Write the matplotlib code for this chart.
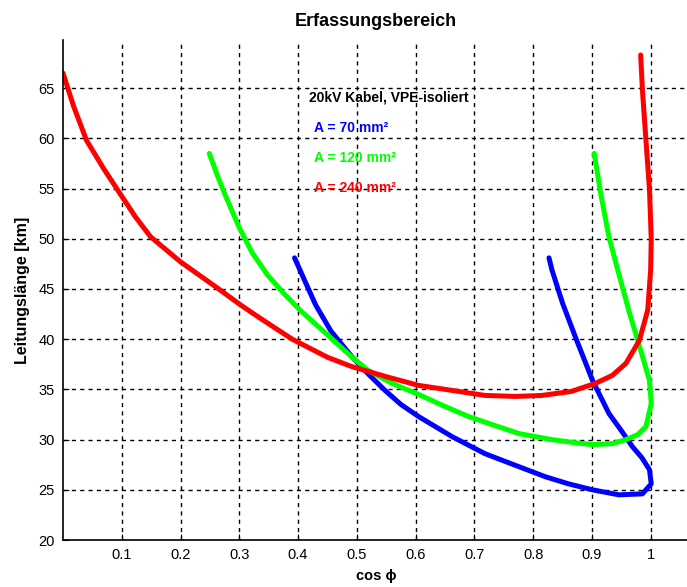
import matplotlib
matplotlib.use('Agg')
import matplotlib.pyplot as plt

plt.rcParams['font.family'] = ['Liberation Sans', 'DejaVu Sans']

# values
blue_x = [0.394, 0.41, 0.43, 0.456, 0.491, 0.52, 0.548, 0.575, 0.605, 0.662,
          0.718, 0.776, 0.821, 0.86, 0.901, 0.946, 0.986, 1.001, 0.998, 0.985,
          0.969, 0.95, 0.929, 0.901, 0.872, 0.85, 0.832, 0.827]
blue_y = [48.1, 46.0, 43.4, 40.8, 38.3, 36.5, 34.9, 33.5, 32.3, 30.3,
          28.6, 27.3, 26.3, 25.6, 25.0, 24.5, 24.6, 25.6, 27.0, 28.2,
          29.3, 30.9, 32.6, 35.9, 40.2, 43.6, 46.9, 48.1]

green_x = [0.249, 0.262, 0.275, 0.3, 0.322, 0.348, 0.375, 0.405, 0.445, 0.49,
           0.519, 0.56, 0.605, 0.65, 0.69, 0.735, 0.776, 0.832, 0.87, 0.901,
           0.935, 0.958, 0.978, 0.992, 1.001, 0.998, 0.981, 0.964, 0.944, 0.929,
           0.915, 0.904]
green_y = [58.5, 56.4, 54.5, 51.1, 48.6, 46.4, 44.6, 42.8, 40.7, 38.3,
           36.9, 35.6, 34.5, 33.3, 32.3, 31.4, 30.6, 30.0, 29.7, 29.5,
           29.6, 30.0, 30.5, 31.3, 33.6, 35.9, 39.3, 42.6, 46.9, 50.2,
           54.5, 58.5]

red_x = [0.0, 0.018, 0.04, 0.069, 0.097, 0.123, 0.149, 0.2, 0.265, 0.3,
         0.33, 0.39, 0.45, 0.49, 0.548, 0.605, 0.662, 0.718, 0.77, 0.815,
         0.865, 0.906, 0.935, 0.958, 0.981, 0.995, 1.0, 1.001, 0.998, 0.992,
         0.986, 0.983]
red_y = [66.5, 63.2, 59.8, 57.0, 54.5, 52.2, 50.2, 47.7, 45.0, 43.5,
         42.3, 40.0, 38.2, 37.3, 36.3, 35.4, 34.9, 34.4, 34.3, 34.4,
         34.8, 35.6, 36.4, 37.6, 39.9, 42.9, 46.9, 50.0, 54.9, 59.8,
         64.8, 68.3]

xticks = [0.1, 0.2, 0.3, 0.4, 0.5, 0.6, 0.7, 0.8, 0.9, 1]
xticklabels = ['0.1', '0.2', '0.3', '0.4', '0.5', '0.6', '0.7', '0.8', '0.9', '1']
yticks = [20, 25, 30, 35, 40, 45, 50, 55, 60, 65]

fig = plt.figure(figsize=(6.87, 5.87), dpi=100)
ax = fig.add_axes([0.0917, 0.080, 0.911, 0.852])

ax.plot(blue_x, blue_y, color=(0, 0, 1), lw=3.6, solid_capstyle='round', solid_joinstyle='round')
ax.plot(green_x, green_y, color=(0, 1, 0), lw=3.6, solid_capstyle='round', solid_joinstyle='round')
ax.plot(red_x, red_y, color=(1, 0, 0), lw=3.6, solid_capstyle='round', solid_joinstyle='round')

ax.set_xlim(0, 1.065)
ax.set_ylim(20, 69.8)
ax.set_xticks(xticks)
ax.set_xticklabels(xticklabels)
ax.set_yticks(yticks)
ax.grid(True, color='black', linestyle=(0, (3, 3)), linewidth=1.0)
ax.set_axisbelow(True)
for s in ['top', 'right']:
    ax.spines[s].set_visible(False)
ax.spines['left'].set_linewidth(1.2)
ax.spines['bottom'].set_linewidth(1.2)
ax.tick_params(direction='in', length=4, labelsize=10.5, pad=6)

ax.set_title('Erfassungsbereich', fontsize=13, fontweight='bold', pad=10)
ax.set_xlabel('cos \u03d5', fontsize=10.5, fontweight='bold', labelpad=5)
ax.set_ylabel('Leitungsl\u00e4nge [km]', fontsize=11.5, fontweight='bold', labelpad=6)

ax.text(0.419, 64.1, '20kV Kabel, VPE-isoliert', fontsize=10, fontweight='bold',
        color='black', va='center')
ax.text(0.427, 61.0, 'A = 70 mm\u00b2', fontsize=10, fontweight='bold',
        color=(0, 0, 1), va='center')
ax.text(0.427, 58.0, 'A = 120 mm\u00b2', fontsize=10, fontweight='bold',
        color=(0, 1, 0), va='center')
ax.text(0.427, 55.1, 'A = 240 mm\u00b2', fontsize=10, fontweight='bold',
        color=(1, 0, 0), va='center')

fig.savefig('out.png', dpi=100)
